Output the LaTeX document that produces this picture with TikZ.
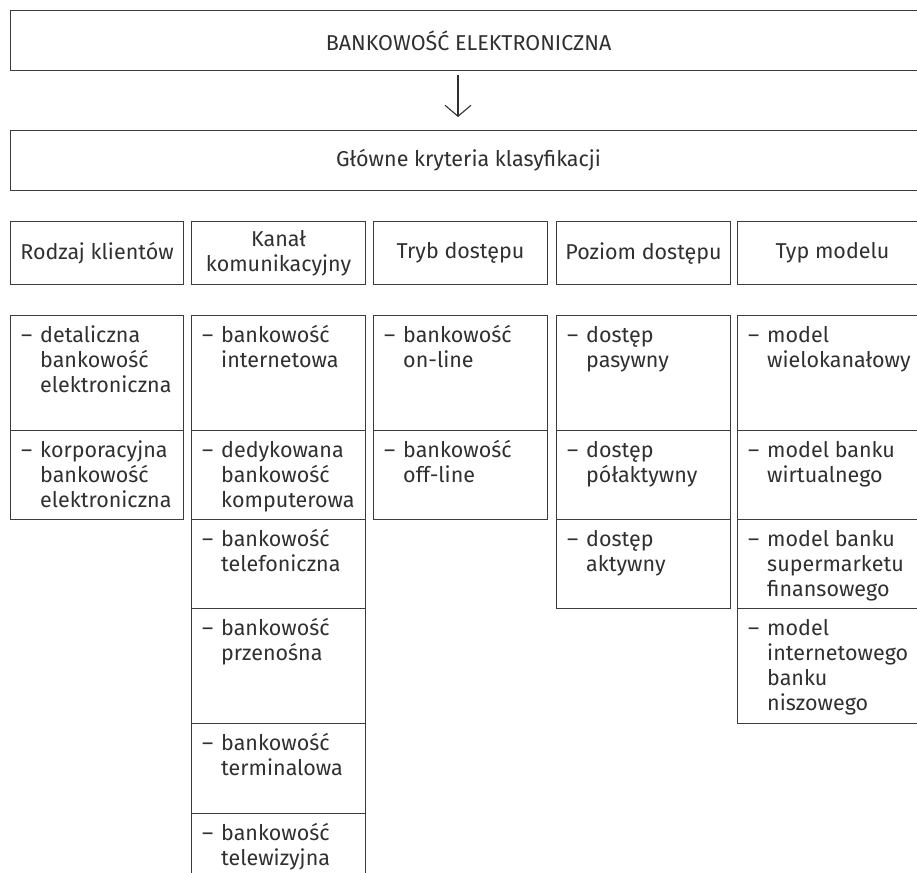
\documentclass[tikz,border=0pt]{standalone}
\usepackage{fontspec}
\setmainfont{Fira Sans}
\usetikzlibrary{arrows.meta}

\definecolor{ink}{HTML}{303030}
\definecolor{rule}{HTML}{3C3C3C}

\tikzset{
  frame/.style={draw=rule, line width=1.1pt, inner sep=0pt, anchor=north west,
                text=ink, font=\fontsize{21.5}{25}\selectfont, align=center},
  itemtext/.style={text=ink, font=\fontsize{21.5}{25}\selectfont, inner sep=0pt,
                   anchor=base west},
  flow/.style={draw=ink, line width=1.1pt, -{Straight Barb[length=11pt,width=26pt]}},
}

% a boxed list entry: name, left, top, width, height, lines of text
\newcommand\entrybox[6]{%
  \node[frame, minimum width=#4pt, minimum height=#5pt] (#1) at (#2,#3) {};
  \node[itemtext] (#1-text) at ([xshift=11pt, yshift=-27pt]#1.north west)
    {\makebox[19pt][l]{–}\begin{tabular}[t]{@{}l@{}}#6\end{tabular}};
}

\begin{document}
\begin{tikzpicture}[x=1pt, y=-1pt]
  \clip (0,0) rectangle (917,872);

  % top of the hierarchy
  \node[frame, minimum width=916pt, minimum height=60pt] (root) at (10,10)
    {BANKOWOŚĆ ELEKTRONICZNA};
  \node[frame, minimum width=916pt, minimum height=60pt] (crit) at (10,130)
    {Główne kryteria klasyfikacji};
  \coordinate (arrA) at (458,75);
  \coordinate (arrB) at (458,117);
  \draw[flow] (arrA) -- (arrB);

  % classification criteria
  \node[frame, minimum width=173pt, minimum height=63pt] (c1) at (10,221) {Rodzaj klientów};
  \node[frame, minimum width=174pt, minimum height=63pt] (c2) at (191,221) {Kanał\\komunikacyjny};
  \node[frame, minimum width=174pt, minimum height=63pt] (c3) at (373,221) {Tryb dostępu};
  \node[frame, minimum width=174pt, minimum height=63pt] (c4) at (556,221) {Poziom dostępu};
  \node[frame, minimum width=190pt, minimum height=63pt] (c5) at (737,221) {Typ modelu};

  % client type
  \entrybox{k1}{10}{315}{173}{115}{detaliczna\\bankowość\\elektroniczna}
  \entrybox{k2}{10}{430}{173}{89}{korporacyjna\\bankowość\\elektroniczna}

  % communication channel
  \entrybox{m1}{191}{315}{174}{115}{bankowość\\internetowa}
  \entrybox{m2}{191}{430}{174}{89}{dedykowana\\bankowość\\komputerowa}
  \entrybox{m3}{191}{519}{174}{89}{bankowość\\telefoniczna}
  \entrybox{m4}{191}{608}{174}{115}{bankowość\\przenośna}
  \entrybox{m5}{191}{723}{174}{90}{bankowość\\terminalowa}
  \entrybox{m6}{191}{813}{174}{90}{bankowość\\telewizyjna}

  % access mode
  \entrybox{t1}{373}{315}{174}{115}{bankowość\\on-line}
  \entrybox{t2}{373}{430}{174}{89}{bankowość\\off-line}

  % access level
  \entrybox{p1}{556}{315}{174}{115}{dostęp\\pasywny}
  \entrybox{p2}{556}{430}{174}{89}{dostęp\\półaktywny}
  \entrybox{p3}{556}{519}{174}{89}{dostęp\\aktywny}

  % model type
  \entrybox{y1}{737}{315}{190}{115}{model\\wielokanałowy}
  \entrybox{y2}{737}{430}{190}{89}{model banku\\wirtualnego}
  \entrybox{y3}{737}{519}{190}{89}{model banku\\supermarketu\\finansowego}
  \entrybox{y4}{737}{608}{190}{115}{model\\internetowego\\banku\\niszowego}
\end{tikzpicture}
\end{document}
